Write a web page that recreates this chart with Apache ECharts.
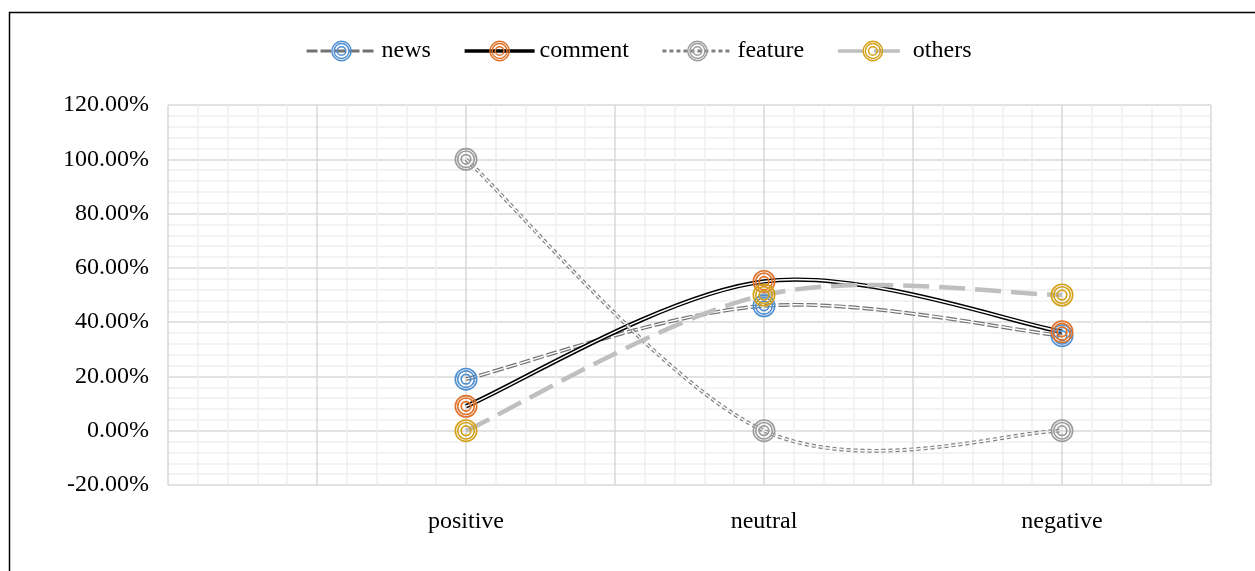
<!DOCTYPE html>
<html>
<head>
<meta charset="utf-8">
<script src="https://cdn.jsdelivr.net/npm/echarts@6/dist/echarts.min.js"></script>
<style>
html,body{margin:0;padding:0;background:#fff;}
#chart{width:1255px;height:571px;}
</style>
</head>
<body>
<div id="chart"></div>
<script>
// ---- data ----
var categories = ['positive', 'neutral', 'negative'];
var seriesNames = ['news', 'comment', 'feature', 'others'];
var newsValues = [0.19, 0.46, 0.35];
var commentValues = [0.09, 0.55, 0.365];
var featureValues = [1.00, 0.00, 0.00];
var othersValues = [0.00, 0.50, 0.50];
var yTickLabels = ['-20.00%', '0.00%', '20.00%', '40.00%', '60.00%', '80.00%', '100.00%', '120.00%'];

// ---- styles ----
var FONT = 'Liberation Serif';
function circ(r, cw) {
  var s = cw ? '1' : '0';
  return 'M' + (10 - r) + ',10 A' + r + ',' + r + ' 0 1,' + s + ' ' + (10 + r) + ',10 A' + r + ',' + r + ' 0 1,' + s + ' ' + (10 - r) + ',10 Z ';
}
var ringPath = 'path://' + circ(10, true) + circ(8.6, false) + circ(7.9, true) + circ(6.5, false) + circ(4.9, true) + circ(3.4, false);

var styleDefs = [
  { values: newsValues,    line: '#737373', width: 3.8, inner: 1.4, dash: [11, 3], marker: '#4F8FD0' },
  { values: commentValues, line: '#000000', width: 4.4, inner: 1.5, dash: null,    marker: '#E0722A' },
  { values: featureValues, line: '#808080', width: 3.8, inner: 1.4, dash: [4, 3],  marker: '#9C9C9C' },
  { values: othersValues,  line: '#BFBFBF', width: 4.5, inner: 0,   dash: [26, 10], marker: '#D4A017' }
];

function toPoints(vals) {
  return vals.map(function (v, i) { return [i + 1, v]; });
}

// Excel-like smoothed curve through pixel points (Catmull-Rom style Bezier)
function smoothPath(pts) {
  var t = 1 / 6, n = pts.length;
  var d = 'M' + pts[0][0] + ',' + pts[0][1];
  for (var i = 0; i < n - 1; i++) {
    var p0 = pts[Math.max(i - 1, 0)], p1 = pts[i], p2 = pts[i + 1], p3 = pts[Math.min(i + 2, n - 1)];
    var c1x = p1[0] + (p2[0] - p0[0]) * t, c1y = p1[1] + (p2[1] - p0[1]) * t;
    var c2x = p2[0] - (p3[0] - p1[0]) * t, c2y = p2[1] - (p3[1] - p1[1]) * t;
    d += ' C' + c1x + ',' + c1y + ' ' + c2x + ',' + c2y + ' ' + p2[0] + ',' + p2[1];
  }
  return d;
}

var series = [];
var legendData = [];
styleDefs.forEach(function (s, k) {
  var name = seriesNames[k];
  var pts = toPoints(s.values);
  legendData.push({
    name: name,
    lineStyle: { color: s.line, width: Math.max(2.5, s.width * 0.8), type: s.dash || 'solid', opacity: 1 },
    itemStyle: { color: s.marker, opacity: 1 }
  });
  // marker series (also provides legend icon)
  series.push({
    name: name, type: 'line', z: 5 + k,
    data: pts,
    symbol: ringPath, symbolSize: 23, showSymbol: true,
    itemStyle: { color: s.marker, borderWidth: 0 },
    lineStyle: { width: 0, opacity: 0 },
    emphasis: { disabled: true }, animation: false
  });
  // smoothed line drawn from axis coordinates
  series.push({
    name: name, type: 'custom', z: 2,
    data: pts,
    renderItem: function (params, api) {
      if (params.dataIndex !== 0) return null;
      var pix = pts.map(function (p) { return api.coord(p); });
      var d = smoothPath(pix);
      var children = [{
        type: 'path', shape: { pathData: d },
        style: { fill: 'none', stroke: s.line, lineWidth: s.width, lineDash: s.dash, lineCap: 'butt', lineJoin: 'round' }
      }];
      if (s.inner > 0) {
        children.push({
          type: 'path', shape: { pathData: d },
          style: { fill: 'none', stroke: '#ffffff', lineWidth: s.inner, lineDash: s.dash, lineCap: 'butt', lineJoin: 'round' }
        });
      }
      return { type: 'group', children: children };
    },
    emphasis: { disabled: true }, animation: false, silent: true
  });
});

var chart = echarts.init(document.getElementById('chart'), null, { renderer: 'canvas' });
chart.setOption({
  animation: false,
  backgroundColor: '#ffffff',
  graphic: [{
    type: 'rect', left: 7, top: 10, z: 100, silent: true,
    shape: { width: 1247, height: 570 },
    style: { fill: 'none', stroke: '#000', lineWidth: 1.5 }
  }],
  legend: {
    data: legendData,
    left: 300, top: 34,
    itemWidth: 70, itemHeight: 26, itemGap: 32,
    textStyle: { fontFamily: FONT, fontSize: 24, color: '#000' },
    selectedMode: false
  },
  grid: { left: 168, right: 44, top: 105, bottom: 86, containLabel: false },
  xAxis: {
    type: 'value', min: 0, max: 3.5, interval: 0.5,
    axisLine: { show: false }, axisTick: { show: false },
    axisLabel: {
      margin: 25, fontFamily: FONT, fontSize: 24, color: '#000',
      showMinLabel: true, showMaxLabel: true,
      formatter: function (v) {
        var i = Math.round(v) - 1;
        return (Math.abs(v - Math.round(v)) < 1e-6 && i >= 0 && i < categories.length) ? categories[i] : '';
      }
    },
    splitLine: { show: true, lineStyle: { color: '#d9d9d9', width: 1.5 } },
    minorTick: { show: false, splitNumber: 5 },
    minorSplitLine: { show: true, lineStyle: { color: '#f0f0f0', width: 1.5 } }
  },
  yAxis: {
    type: 'value', min: -0.2, max: 1.2, interval: 0.2,
    axisLine: { show: false }, axisTick: { show: false },
    axisLabel: {
      margin: 19, fontFamily: FONT, fontSize: 24, color: '#000',
      formatter: function (v) {
        var i = Math.round((v + 0.2) / 0.2);
        return yTickLabels[i] || '';
      }
    },
    splitLine: { show: true, lineStyle: { color: '#d9d9d9', width: 1.5 } },
    minorTick: { show: false, splitNumber: 5 },
    minorSplitLine: { show: true, lineStyle: { color: '#f0f0f0', width: 1.5 } }
  },
  series: series
});
</script>
</body>
</html>
